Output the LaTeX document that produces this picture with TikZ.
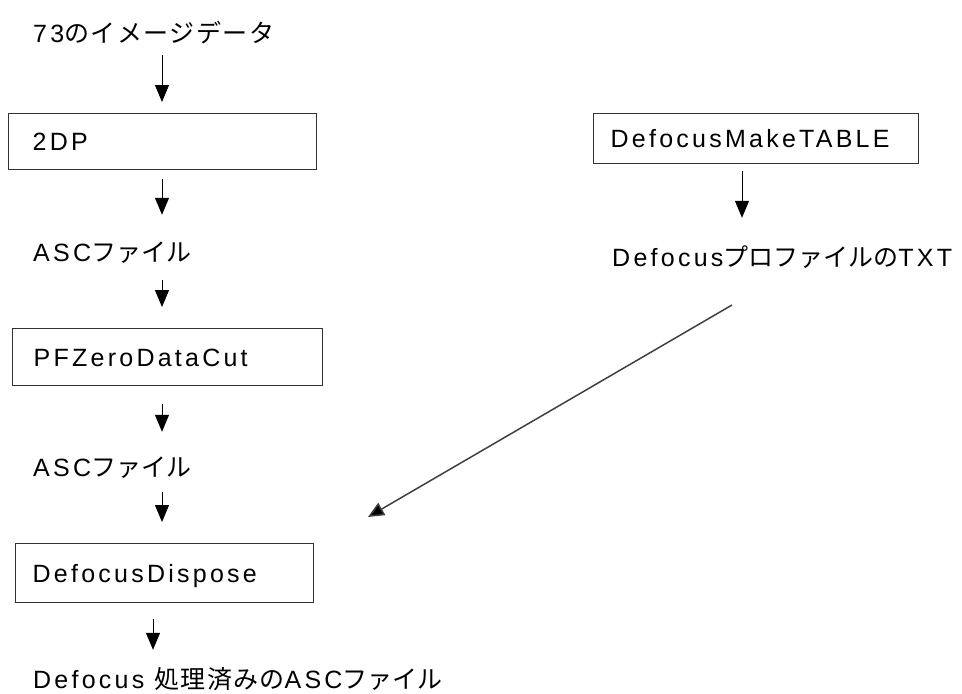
\documentclass[tikz,border=0pt]{standalone}
\usepackage{fontspec}
\setmainfont{Liberation Sans}[LetterSpace=13]
\newfontfamily\jp{Noto Sans CJK JP}
\usetikzlibrary{arrows.meta}
\begin{document}
\begin{tikzpicture}[x=1pt,y=-1pt,
  every node/.style={font=\fontsize{25}{30}\selectfont, text height=18pt, text depth=0pt},
  lbl/.style={anchor=west, inner sep=0pt},
  boxnode/.style={draw=black!80, line width=1.3pt, anchor=north west, align=left, inner ysep=0pt},
  arr/.style={line width=1pt, -{Triangle[width=14pt,length=17pt]}},
  diag/.style={draw=black!75, line width=1.5pt, -{Triangle[width=14pt,length=16pt,fill=black]}}]
\useasboundingbox (0,0) rectangle (962,694);
\coordinate (ax) at (162,0);
\coordinate (bx) at (153,0);
\coordinate (cx) at (742,0);
% left column
\node[lbl] (t1) at (33,33) {73{\jp\addfontfeature{LetterSpace=6} のイメージデータ}};
\node[boxnode, minimum width=308pt, minimum height=56pt, inner xsep=24pt, text width=260pt] (b1) at (8,113) {2DP};
\node[lbl] (t2) at (33,252) {ASC{\jp ファイル}};
\node[boxnode, minimum width=310pt, minimum height=57pt, inner xsep=21pt, text width=268pt] (b2) at (12,328) {PFZeroDataCut};
\node[lbl] (t3) at (33,467) {ASC{\jp ファイル}};
\node[boxnode, minimum width=298pt, minimum height=59pt, inner xsep=17pt, text width=264pt] (b3) at (15,543) {DefocusDispose};
\node[lbl] (t4) at (33,679) {Defocus {\jp\addfontfeature{LetterSpace=5}処理済みの}ASC{\jp ファイル}};
% right column
\node[boxnode, minimum width=325pt, minimum height=50pt, inner xsep=17pt, text width=291pt] (b4) at (593,113) {DefocusMakeTABLE};
\node[lbl] (t5) at (612,257) {Defocus{\jp プロファイルの}TXT};
% arrows
\draw[arr, shorten <=13pt, shorten >=11pt] (t1.south -| ax) -- (b1.north -| ax);
\draw[arr, shorten <=9pt, shorten >=28pt] (b1.south -| ax) -- (t2.north -| ax);
\draw[arr, shorten <=19pt, shorten >=21pt] (t2.south -| ax) -- (b2.north -| ax);
\draw[arr, shorten <=18pt, shorten >=26pt] (b2.south -| ax) -- (t3.north -| ax);
\draw[arr, shorten <=16pt, shorten >=21pt] (t3.south -| ax) -- (b3.north -| ax);
\draw[arr, shorten <=16pt, shorten >=20pt] (b3.south -| bx) -- (t4.north -| bx);
\draw[arr, shorten <=7pt, shorten >=30pt] (b4.south -| cx) -- (t5.north -| cx);
\coordinate (d1) at (732,305);
\coordinate (d2) at (368,517);
\draw[diag] (d1) -- (d2);
\end{tikzpicture}
\end{document}
